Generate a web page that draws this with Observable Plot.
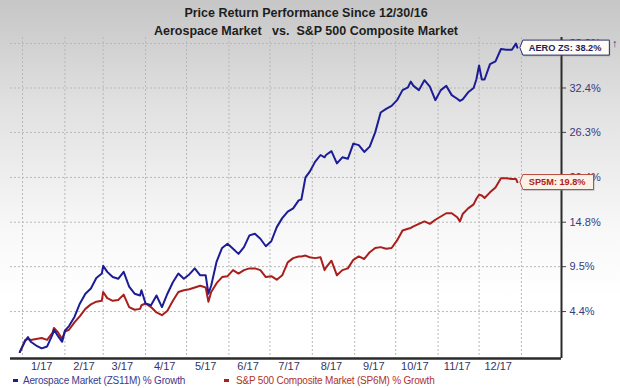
<!DOCTYPE html>
<html>
<head>
<meta charset="utf-8">
<script src="https://cdn.jsdelivr.net/npm/d3@7"></script>
<script src="https://cdn.jsdelivr.net/npm/@observablehq/plot@0.6"></script>
<style>
html, body { margin: 0; padding: 0; }
body {
  width: 620px; height: 388px; overflow: hidden;
  background: linear-gradient(to bottom, #c6c6c6 0px, #e2e2e2 110px, #f8f8f8 230px, #ffffff 300px);
  font-family: "Liberation Sans", Arial, sans-serif;
}
#title {
  height: 36px; box-sizing: border-box; padding-top: 4px; padding-right: 8px;
  text-align: center; font-weight: bold; font-size: 12.5px; line-height: 18px;
  color: #1e1e1e; white-space: pre;
}
#chart svg { display: block; }
#legend { position: relative; height: 15px; font-size: 10px; line-height: 15px; letter-spacing: -0.2px; }
#legend .item { position: absolute; top: 0; white-space: nowrap; }
#legend .sw { position: absolute; top: 6px; width: 5px; height: 3px; }
</style>
</head>
<body>
<div id="title"></div>
<div id="chart"></div>
<div id="legend"></div>
<script>
// ---- data ----
const titleLines = ["Price Return Performance Since 12/30/16", "Aerospace Market   vs.  S&P 500 Composite Market"];
const seriesNames = ["Aerospace Market (ZS11M) % Growth", "S&P 500 Composite Market (SP6M) % Growth"];
const calloutNames = ["AERO ZS", "SP5M"];
const seriesColors = ["#1c1c96", "#a81f1c"];

const dates = ["2016-12-30","2017-01-03","2017-01-05","2017-01-07","2017-01-11","2017-01-15","2017-01-19","2017-01-23","2017-01-24","2017-01-27",
"2017-01-30","2017-02-01","2017-02-04","2017-02-08","2017-02-12","2017-02-16","2017-02-20","2017-02-24","2017-02-28","2017-03-01",
"2017-03-04","2017-03-08","2017-03-12","2017-03-16","2017-03-20","2017-03-24","2017-03-28","2017-03-29","2017-04-01","2017-04-05",
"2017-04-09","2017-04-13","2017-04-17","2017-04-21","2017-04-25","2017-04-29","2017-05-03","2017-05-07","2017-05-11","2017-05-15",
"2017-05-17","2017-05-19","2017-05-23","2017-05-27","2017-05-31","2017-06-04","2017-06-08","2017-06-12","2017-06-16","2017-06-20",
"2017-06-24","2017-06-28","2017-07-02","2017-07-06","2017-07-10","2017-07-14","2017-07-18","2017-07-22","2017-07-24","2017-07-27",
"2017-07-30","2017-08-03","2017-08-07","2017-08-10","2017-08-11","2017-08-15","2017-08-19","2017-08-23","2017-08-27","2017-08-31",
"2017-09-04","2017-09-08","2017-09-12","2017-09-16","2017-09-20","2017-09-24","2017-09-28","2017-10-02","2017-10-06","2017-10-10",
"2017-10-12","2017-10-14","2017-10-18","2017-10-22","2017-10-26","2017-10-30","2017-11-03","2017-11-07","2017-11-11","2017-11-15",
"2017-11-17","2017-11-19","2017-11-23","2017-11-27","2017-11-29","2017-12-01","2017-12-03","2017-12-05","2017-12-09","2017-12-13",
"2017-12-17","2017-12-21","2017-12-25","2017-12-28","2017-12-29"];

const aero = [0, 1.2, 1.6, 1.1, 0.7, 0.4, 0.6, 1.9, 2.4, 1.7,
1.1, 2.3, 2.8, 3.8, 5.3, 6.4, 7.0, 8.2, 8.7, 9.6,
8.9, 8.3, 8.1, 8.9, 7.2, 6.4, 6.2, 6.8, 5.3, 5.1,
6.2, 4.9, 6.4, 7.7, 8.7, 8.1, 8.6, 9.3, 8.5, 8.5,
6.4, 7.3, 10.1, 11.7, 12.2, 11.6, 11.0, 11.8, 13.2, 13.4,
12.8, 11.9, 12.5, 14.2, 15.3, 16.1, 16.5, 17.5, 17.6, 20.4,
21.1, 22.4, 23.3, 23.0, 23.3, 23.8, 22.2, 23.0, 22.8, 24.8,
24.6, 23.7, 24.4, 26.3, 29.0, 29.5, 29.9, 30.7, 32.1, 32.5,
33.3, 32.7, 32.1, 33.5, 32.6, 30.7, 32.1, 32.7, 31.4, 30.9,
30.6, 30.8, 31.8, 32.4, 33.6, 35.6, 33.6, 33.6, 35.8, 36.2,
38.0, 37.9, 37.9, 38.8, 38.2];

const sp500 = [0, 1.3, 1.4, 1.3, 1.4, 1.5, 1.3, 2.1, 2.6, 2.1,
1.4, 2.2, 2.4, 3.2, 3.9, 4.7, 5.2, 5.5, 5.6, 6.6,
5.9, 5.6, 5.7, 6.3, 4.9, 4.6, 4.7, 5.1, 5.3, 4.9,
4.3, 4.0, 4.5, 5.6, 6.6, 6.8, 6.9, 7.1, 7.3, 7.1,
5.5, 6.6, 7.6, 8.3, 8.4, 9.1, 8.7, 9.1, 9.3, 9.3,
9.1, 8.3, 8.4, 8.0, 8.5, 10.0, 10.5, 10.7, 10.7, 10.8,
10.6, 10.5, 10.6, 9.1, 9.4, 10.2, 8.5, 9.1, 9.3, 10.3,
10.7, 10.4, 11.2, 11.7, 11.8, 11.6, 11.7, 12.6, 13.8, 14.0,
14.1, 14.3, 14.6, 14.9, 14.6, 15.1, 15.5, 15.9, 15.9, 15.4,
14.9, 15.8, 16.5, 17.0, 17.7, 18.2, 18.1, 17.8, 18.5, 19.1,
20.3, 20.3, 20.2, 20.2, 19.8];

const xTickDates = ["2017-01-15","2017-02-15","2017-03-15","2017-04-15","2017-05-15","2017-06-15","2017-07-15","2017-08-15","2017-09-15","2017-10-15","2017-11-15","2017-12-15"];
const xTickLabels = ["1/17","2/17","3/17","4/17","5/17","6/17","7/17","8/17","9/17","10/17","11/17","12/17"];
const gridDates = ["2017-01-01","2017-02-01","2017-03-01","2017-04-01","2017-05-01","2017-06-01","2017-07-01","2017-08-01","2017-09-01","2017-10-01","2017-11-01","2017-12-01","2018-01-01"];
const yTickValues = [4.4, 9.5, 14.8, 20.4, 26.3, 32.4, 38.8];
const yTickLabels = ["4.4%","9.5%","14.8%","20.4%","26.3%","32.4%","38.8%"];
const xDomain = ["2016-12-23T05:00:00Z", "2018-01-30T07:00:00Z"];
const yDomainPct = [-0.68, 39.7];

// ---- build ----
const growth = v => 1 + v / 100;
const parse = s => new Date(s.length === 10 ? s + "T00:00:00Z" : s);

document.getElementById("title").textContent = titleLines.join("\n");

const rowsA = dates.map((d, i) => ({date: parse(d), g: growth(aero[i])}));
const rowsS = dates.map((d, i) => ({date: parse(d), g: growth(sp500[i])}));
const lastI = dates.length - 1;
const callouts = [
  {date: parse(dates[lastI]), g: growth(aero[lastI]), label: `${calloutNames[0]}: ${aero[lastI].toFixed(1)}%`, k: 0},
  {date: parse(dates[lastI]), g: growth(sp500[lastI]), label: `${calloutNames[1]}: ${sp500[lastI].toFixed(1)}%`, k: 1}
];

const xLabelMap = new Map(xTickDates.map((d, i) => [+parse(d), xTickLabels[i]]));
const yTicks = yTickValues.map(growth);
const yLabelMap = new Map(yTicks.map((t, i) => [t, yTickLabels[i]]));
const xDom = xDomain.map(parse);
const yDom = yDomainPct.map(growth);

const chart = Plot.plot({
  width: 620, height: 337,
  marginTop: 1, marginBottom: 15, marginLeft: 10, marginRight: 59,
  style: {background: "transparent", fontFamily: "'Liberation Sans', Arial, sans-serif", overflow: "visible"},
  x: {type: "utc", domain: xDom},
  y: {type: "log", domain: yDom},
  marks: [
    Plot.ruleX(gridDates.map(parse), {stroke: "#b8b8b8", strokeDasharray: "2,2", strokeWidth: 1}),
    Plot.ruleY(yTicks, {stroke: "#b8b8b8", strokeDasharray: "2,2", strokeWidth: 1}),
    Plot.axisX({ticks: xTickDates.map(parse), tickSize: 0, tickPadding: 4, fontSize: 11, fill: "#35355e",
      tickFormat: d => xLabelMap.get(+d)}),
    Plot.axisY({anchor: "right", ticks: yTicks, tickSize: 4, tickPadding: 4, fontSize: 11, fill: "#3a3a7c", stroke: "#444",
      tickFormat: d => yLabelMap.get(d)}),
    Plot.ruleX([xDom[1]], {stroke: "#2b2b2b", strokeWidth: 2}),
    Plot.ruleY([yDom[0]], {stroke: "#2b2b2b", strokeWidth: 2.5}),
    Plot.line(rowsS, {x: "date", y: "g", stroke: seriesColors[1], strokeWidth: 2}),
    Plot.line(rowsA, {x: "date", y: "g", stroke: seriesColors[0], strokeWidth: 2}),
    Plot.text(callouts, {x: "date", y: "g", text: "label", dx: 11.5, textAnchor: "start",
      fontWeight: "bold", fontSize: 9.2, fill: d => d.k === 0 ? "#1e1e5c" : "#b01e18"})
  ]
});
document.getElementById("chart").append(chart);

// callout boxes behind the label texts
const boxStyles = [{fill: "#fdfdf6", stroke: "#2a2a72"}, {fill: "#fcf1e6", stroke: "#b54a3e"}];
d3.select(chart).selectAll('g[aria-label="text"] text').each(function(_, i) {
  const b = this.getBBox();
  const cy = b.y + b.height / 2;
  const x0 = b.x - 6, x1 = b.x + b.width + 8, tip = b.x - 9;
  const y0 = cy - 7.5, y1 = cy + 7.5;
  const pts = [[tip, cy], [x0, y0], [x1, y0], [x1, y1], [x0, y1]];
  const dstr = "M" + pts.map(p => p.join(",")).join("L") + "Z";
  const parent = this.parentNode;
  const tr = this.getAttribute("transform");
  const shadow = document.createElementNS("http://www.w3.org/2000/svg", "path");
  shadow.setAttribute("d", dstr);
  shadow.setAttribute("fill", "#888");
  shadow.setAttribute("fill-opacity", "0.35");
  shadow.setAttribute("transform", (tr ? tr + " " : "") + "translate(1,1.5)");
  const path = document.createElementNS("http://www.w3.org/2000/svg", "path");
  path.setAttribute("d", dstr);
  path.setAttribute("fill", boxStyles[i].fill);
  path.setAttribute("stroke", boxStyles[i].stroke);
  path.setAttribute("stroke-width", "1");
  if (tr) path.setAttribute("transform", tr);
  parent.insertBefore(shadow, this);
  parent.insertBefore(path, this);
});

// legend
const legend = document.getElementById("legend");
const legendPos = [[13, 23], [224, 236]];
const legendText = ["#3a3a8c", "#b03328"];
seriesNames.forEach((name, i) => {
  const sw = document.createElement("span");
  sw.className = "sw";
  sw.style.left = legendPos[i][0] + "px";
  sw.style.background = seriesColors[i];
  legend.append(sw);
  const t = document.createElement("span");
  t.className = "item";
  t.style.left = legendPos[i][1] + "px";
  t.style.color = legendText[i];
  t.textContent = name;
  legend.append(t);
});
</script>
</body>
</html>
